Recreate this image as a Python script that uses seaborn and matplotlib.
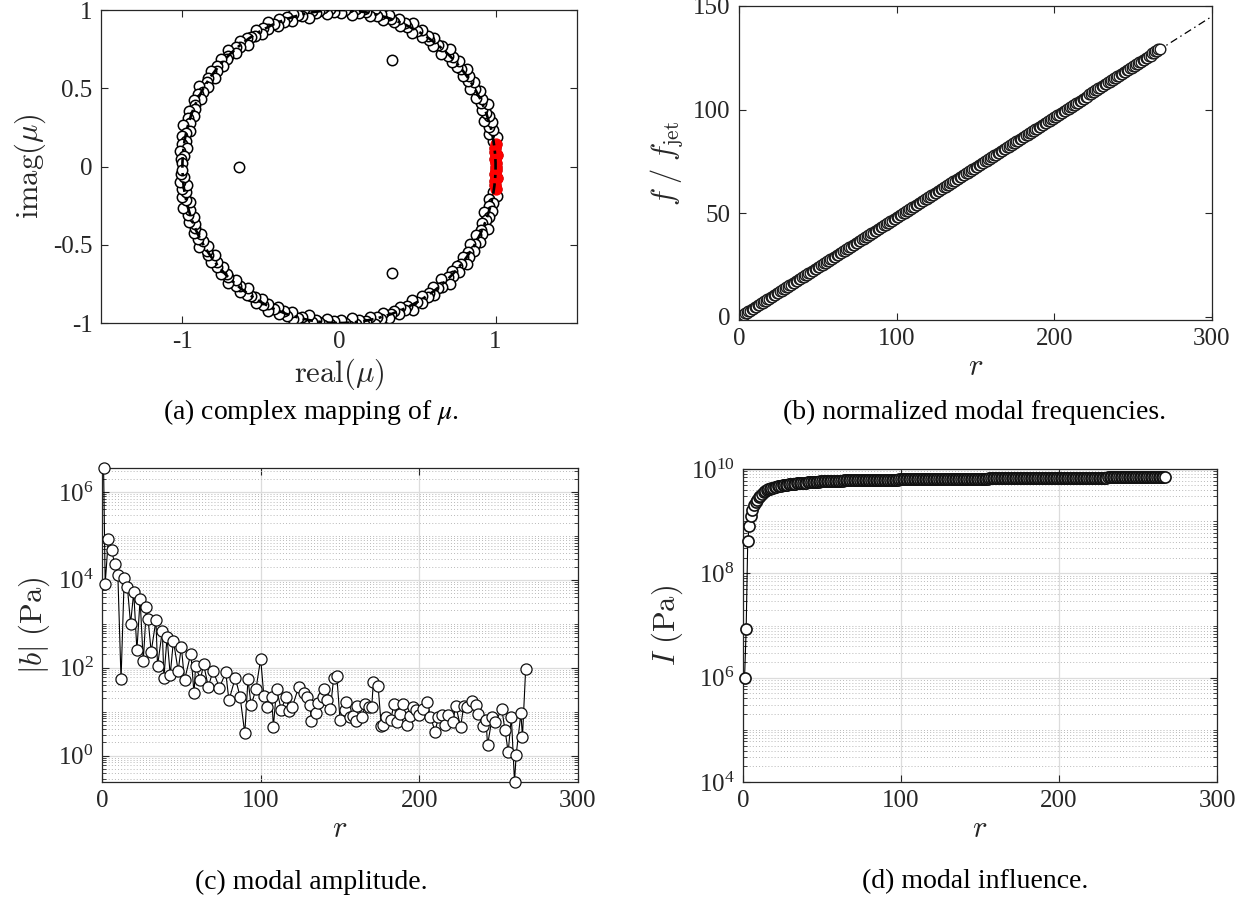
import numpy as np
import pandas as pd
import matplotlib
matplotlib.use("Agg")
import matplotlib.pyplot as plt
import seaborn as sns
from matplotlib.ticker import FixedLocator, FixedFormatter, LogLocator, NullFormatter
from matplotlib.patches import Circle

# ---------------------------------------------------------------- data
# normalized frequency f/f_jet of each conjugate pair (modes r = 2k, 2k+1); mode r = 1 has f = 0
pair_freq = [
    1.0, 1.9, 2.9, 3.9, 4.8, 5.8, 6.8, 7.7, 8.7, 9.7,
    10.6, 11.6, 12.6, 13.5, 14.5, 15.5, 16.4, 17.4, 18.4, 19.3,
    20.3, 21.3, 22.2, 23.2, 24.2, 25.1, 26.1, 27.0, 28.0, 29.0,
    29.9, 30.9, 31.8, 32.8, 33.7, 34.7, 35.7, 36.6, 37.6, 38.5,
    39.5, 40.4, 41.4, 42.4, 43.3, 44.3, 45.2, 46.2, 47.1, 48.1,
    49.1, 50.0, 51.0, 51.9, 52.9, 53.8, 54.8, 55.8, 56.7, 57.7,
    58.6, 59.6, 60.6, 61.5, 62.5, 63.4, 64.4, 65.4, 66.3, 67.3,
    68.3, 69.2, 70.2, 71.2, 72.1, 73.1, 74.1, 75.0, 76.0, 77.0,
    77.9, 78.9, 79.9, 80.9, 81.8, 82.8, 83.8, 84.7, 85.7, 86.7,
    87.7, 88.6, 89.6, 90.6, 91.6, 92.6, 93.5, 94.5, 95.5, 96.5,
    97.5, 98.4, 99.4, 100.4, 101.4, 102.4, 103.4, 104.3, 105.3, 106.3,
    107.3, 108.3, 109.3, 110.3, 111.2, 112.2, 113.2, 114.2, 115.2, 116.2,
    117.2, 118.2, 119.2, 120.2, 121.1, 122.1, 123.1, 124.1, 125.1, 126.1,
    127.1, 128.1, 129.1,
]
# |mu| of each conjugate pair (points scatter around the unit circle)
pair_radius = [
    1.00, 1.00, 1.01, 1.00, 1.00, 1.01, 1.00, 1.03, 0.98, 1.01,
    0.99, 1.02, 0.97, 1.01, 1.00, 0.98, 1.03, 0.99, 1.01, 0.98,
    1.02, 1.00, 0.97, 1.02, 0.99, 1.01, 0.98, 1.03, 1.00, 0.99,
    1.02, 0.98, 1.01, 0.99, 1.03, 0.97, 1.01, 1.00, 0.98, 1.02,
    0.99, 1.01, 0.98, 1.02, 1.00, 0.97, 1.03, 0.99, 1.01, 0.98,
    1.02, 0.99, 1.00, 1.02, 0.98, 1.01, 0.99, 1.03, 0.98, 1.00,
    1.02, 0.99, 1.01, 0.97, 1.02, 1.00, 0.98, 1.03, 0.99, 1.01,
    0.98, 1.02, 1.00, 0.99, 1.01, 0.97, 1.03, 0.99, 1.00, 1.02,
    0.98, 1.01, 0.99, 1.02, 0.98, 1.00, 1.03, 0.99, 1.01, 0.98,
    1.02, 0.99, 1.00, 1.01, 0.97, 1.02, 0.99, 1.01, 0.98, 1.03,
    1.00, 0.99, 1.02, 0.98, 1.01, 0.99, 1.02, 0.97, 1.01, 1.00,
    0.98, 1.03, 0.99, 1.01, 0.98, 1.02, 1.00, 0.99, 1.02, 0.98,
    1.01, 0.99, 1.03, 0.98, 1.00, 1.02, 0.99, 1.01, 0.98, 1.02,
    0.99, 1.01, 1.00,
]
f_nyquist = 130.0          # f/f_jet that maps to arg(mu) = pi
n_red_modes = 13           # leading (slow) modes shown in red
inner_real = [-0.64, 0.34, 0.34]
inner_imag = [0.0, 0.68, -0.68]

# |b| (Pa) of the distinct amplitudes
amp_r = [1, 2, 4, 6, 8, 10, 12, 14, 16, 18, 20, 22, 24, 26, 28, 29, 31, 34, 35, 38,
         39, 41, 43, 45, 48, 50, 52, 56, 58, 59, 62, 64, 67, 70, 74, 78, 80, 84, 87, 90,
         92, 94, 97, 100, 102, 104, 107, 108, 110, 113, 116, 118, 120, 124, 127, 129, 131, 132, 135, 136,
         139, 140, 142, 144, 146, 148, 150, 153, 154, 156, 158, 160, 161, 164, 166, 168, 170, 171, 174, 176,
         177, 179, 182, 184, 186, 188, 190, 192, 194, 196, 198, 200, 202, 205, 207, 210, 212, 214, 216, 218,
         221, 223, 226, 228, 230, 233, 236, 237, 240, 242, 243, 246, 248, 252, 254, 256, 258, 260, 261, 264,
         265, 267]
amp_b = [3.5e6, 8.1e3, 8.5e4, 4.8e4, 2.3e4, 1.26e4, 54, 1.1e4, 6.8e3, 1.0e3, 5.2e3, 250, 3.6e3, 140, 2.4e3, 1.3e3, 230, 1.2e3, 110, 690,
         59, 490, 68, 410, 85, 300, 52, 210, 26, 112, 52, 120, 37, 85, 35, 78, 18, 59, 22, 3.2,
         54, 14, 32, 160, 23, 13, 21, 4.5, 32, 11, 22, 10.5, 13, 37, 27, 21, 14, 6.2, 9.1, 15.5,
         22, 32, 18, 11.7, 59, 65, 6.6, 11, 16.6, 7.6, 7.9, 6.0, 13.5, 7.6, 14.8, 12.9, 12.9, 46, 39, 4.7,
         4.9, 7.6, 6.5, 14.8, 5.9, 8.7, 14.8, 4.9, 7.9, 12.9, 10.7, 8.3, 11.7, 16.6, 7.6, 3.5, 7.6, 8.3, 4.9, 8.3,
         5.9, 13.5, 4.5, 13.5, 12.9, 17.4, 14.1, 8.7, 4.7, 6.5, 1.74, 7.6, 5.9, 11.2, 3.8, 1.2, 7.6, 0.25, 1.02, 9.1,
         2.7, 91]

# modal influence I for r = 1..267, in units of 1e9 Pa
influence_1e9 = [
    0.001, 0.0085, 0.42, 0.82, 1.26, 1.62, 2.0, 2.3, 2.6, 2.85,
    3.1, 3.33, 3.55, 3.73, 3.9, 4.05, 4.18, 4.3, 4.4, 4.5,
    4.58, 4.66, 4.73, 4.8, 4.86, 4.92, 4.98, 5.03, 5.08, 5.13,
    5.17, 5.21, 5.25, 5.29, 5.33, 5.37, 5.41, 5.45, 5.48, 5.51,
    5.54, 5.57, 5.6, 5.63, 5.66, 5.69, 5.72, 5.75, 5.78, 5.8,
    5.82, 5.84, 5.86, 5.88, 5.9, 5.92, 5.93, 5.95, 5.96, 5.98,
    5.99, 6.0, 6.01, 6.02, 6.03, 6.04, 6.05, 6.06, 6.07, 6.08,
    6.09, 6.1, 6.11, 6.11, 6.12, 6.13, 6.14, 6.14, 6.15, 6.16,
    6.17, 6.18, 6.18, 6.19, 6.2, 6.21, 6.21, 6.22, 6.23, 6.24,
    6.24, 6.25, 6.26, 6.26, 6.27, 6.28, 6.28, 6.29, 6.3, 6.3,
    6.31, 6.31, 6.32, 6.33, 6.33, 6.34, 6.34, 6.35, 6.36, 6.36,
    6.37, 6.37, 6.38, 6.38, 6.39, 6.39, 6.4, 6.4, 6.41, 6.41,
    6.42, 6.42, 6.43, 6.43, 6.44, 6.44, 6.45, 6.45, 6.46, 6.46,
    6.47, 6.47, 6.48, 6.48, 6.49, 6.49, 6.5, 6.5, 6.51, 6.51,
    6.52, 6.52, 6.53, 6.53, 6.53, 6.54, 6.54, 6.55, 6.55, 6.55,
    6.56, 6.56, 6.57, 6.57, 6.57, 6.58, 6.58, 6.59, 6.59, 6.59,
    6.6, 6.6, 6.61, 6.61, 6.61, 6.62, 6.62, 6.63, 6.63, 6.63,
    6.64, 6.64, 6.65, 6.65, 6.65, 6.66, 6.66, 6.67, 6.67, 6.67,
    6.68, 6.68, 6.69, 6.69, 6.69, 6.7, 6.7, 6.71, 6.71, 6.71,
    6.72, 6.72, 6.73, 6.73, 6.73, 6.74, 6.74, 6.75, 6.75, 6.75,
    6.76, 6.76, 6.77, 6.77, 6.77, 6.78, 6.78, 6.79, 6.79, 6.79,
    6.8, 6.8, 6.81, 6.81, 6.81, 6.82, 6.82, 6.83, 6.83, 6.83,
    6.84, 6.84, 6.85, 6.85, 6.85, 6.86, 6.86, 6.87, 6.87, 6.87,
    6.88, 6.88, 6.89, 6.89, 6.89, 6.9, 6.9, 6.91, 6.91, 6.91,
    6.92, 6.92, 6.93, 6.93, 6.93, 6.94, 6.94, 6.95, 6.95, 6.95,
    6.96, 6.96, 6.97, 6.97, 6.97, 6.98, 6.98, 6.98, 6.99, 6.99,
    6.99, 7.0, 7.0, 7.0, 7.01, 7.01, 7.02,
]

# linear fit shown as dash-dot line in (b)
fit_r = [0, 300]
fit_f = [0, 145]

# tick labels
a_xticks, a_xlabels = [-1, 0, 1], ["-1", "0", "1"]
a_yticks, a_ylabels = [-1, -0.5, 0, 0.5, 1], ["-1", "-0.5", "0", "0.5", "1"]
b_yticks, b_ylabels = [0, 50, 100, 150], ["0", "50", "100", "150"]
r_ticks, r_labels = [0, 100, 200, 300], ["0", "100", "200", "300"]
c_yticks = [1e0, 1e2, 1e4, 1e6]
c_ylabels = [r"$\mathregular{10^{0}}$", r"$\mathregular{10^{2}}$", r"$\mathregular{10^{4}}$", r"$\mathregular{10^{6}}$"]
d_yticks = [1e4, 1e6, 1e8, 1e10]
d_ylabels = [r"$\mathregular{10^{4}}$", r"$\mathregular{10^{6}}$", r"$\mathregular{10^{8}}$", r"$\mathregular{10^{10}}$"]

captions = ["(a) complex mapping of $\\mu$.", "(b) normalized modal frequencies.",
            "(c) modal amplitude.", "(d) modal influence."]

# ---------------------------------------------------------------- derived tables
mode_freq = [0.0] + [f for f in pair_freq for _ in (0, 1)]
mode_r = list(range(1, len(mode_freq) + 1))
theta = np.pi * np.array(pair_freq) / f_nyquist
rad = np.array(pair_radius)
mu_real = [1.0]
mu_imag = [0.0]
for t, q in zip(theta, rad):
    mu_real += [q * np.cos(t), q * np.cos(t)]
    mu_imag += [q * np.sin(t), -q * np.sin(t)]
df_mu = pd.DataFrame({"re": mu_real, "im": mu_imag})
df_f = pd.DataFrame({"r": mode_r, "f": mode_freq})
df_b = pd.DataFrame({"r": amp_r, "b": amp_b})
df_I = pd.DataFrame({"r": list(range(1, len(influence_1e9) + 1)),
                     "I": np.array(influence_1e9) * 1e9})

# ---------------------------------------------------------------- style
sns.set_theme(style="ticks")
plt.rcParams.update({
    "font.family": ["Liberation Serif", "DejaVu Serif"],
    "mathtext.fontset": "cm",
    "axes.unicode_minus": False,
    "axes.edgecolor": "#262626",
    "axes.linewidth": 0.9,
    "xtick.color": "#262626",
    "ytick.color": "#262626",
    "xtick.labelsize": 18,
    "ytick.labelsize": 18,
    "axes.labelsize": 22,
})
INK = "#262626"

W, H = 1244, 905
fig = plt.figure(figsize=(W / 100, H / 100), dpi=100)


def add_ax(l, r, t, b):
    return fig.add_axes([l / W, 1 - b / H, (r - l) / W, (b - t) / H])


axA = add_ax(101, 577, 10, 323)
axB = add_ax(739, 1212, 6, 320)
axC = add_ax(102, 578, 468, 782)
axD = add_ax(743, 1217, 469, 782)


def style_ticks(ax, minor=False):
    ax.tick_params(which="major", direction="in", top=True, right=True, length=5, width=0.8, pad=6)
    if minor:
        ax.tick_params(which="minor", direction="in", top=False, right=True, length=2.8, width=0.6)
    for s in ax.spines.values():
        s.set_visible(True)
        s.set_color(INK)


# (a) complex mapping
sns.scatterplot(data=df_mu, x="re", y="im", ax=axA, color="white", edgecolor="black",
                s=56, linewidth=1.1, zorder=2, legend=False)
sns.scatterplot(data=df_mu.iloc[:n_red_modes], x="re", y="im", ax=axA, color="red",
                edgecolor="red", s=60, linewidth=1.1, zorder=3, legend=False)
sns.scatterplot(x=inner_real, y=inner_imag, ax=axA, color="white", edgecolor="black",
                s=56, linewidth=1.1, zorder=2, legend=False)
axA.add_patch(Circle((0, 0), 1.0, fill=False, ec="black", lw=1.9, ls=(0, (4, 2, 1.2, 2)), zorder=4))
axA.set_xlim(-1.52, 1.52)
axA.set_ylim(-1, 1)
axA.xaxis.set_major_locator(FixedLocator(a_xticks))
axA.xaxis.set_major_formatter(FixedFormatter(a_xlabels))
axA.yaxis.set_major_locator(FixedLocator(a_yticks))
axA.yaxis.set_major_formatter(FixedFormatter(a_ylabels))
axA.set_xlabel(r"$\mathrm{real}(\mu)$", labelpad=2)
axA.set_ylabel(r"$\mathrm{imag}(\mu)$", labelpad=4)
style_ticks(axA)

# (b) normalized modal frequencies
axB.plot(fit_r, fit_f, color="black", lw=0.9, ls=(0, (6, 3, 1.2, 3)), zorder=1)
sns.scatterplot(data=df_f, x="r", y="f", ax=axB, color="white", edgecolor="#1a1a1a",
                s=58, linewidth=1.0, zorder=2, legend=False)
axB.set_xlim(0, 300)
axB.set_ylim(-1.6, 150)
axB.xaxis.set_major_locator(FixedLocator(r_ticks))
axB.xaxis.set_major_formatter(FixedFormatter(r_labels))
axB.yaxis.set_major_locator(FixedLocator(b_yticks))
axB.yaxis.set_major_formatter(FixedFormatter(b_ylabels))
axB.set_xlabel(r"$r$", labelpad=2)
axB.set_ylabel(r"$f\;/\;f_{\mathrm{jet}}$", labelpad=6)
style_ticks(axB)


def log_panel(ax, df, ycol, yticks, ylabels, ylim, ylabel, mew):
    ax.set_yscale("log")
    sns.lineplot(data=df, x="r", y=ycol, ax=ax, color="black", lw=0.8, marker="o",
                 markersize=8, markerfacecolor="white", markeredgecolor="#111111",
                 markeredgewidth=mew, sort=False, estimator=None, clip_on=False, zorder=3)
    ax.set_xlim(0, 300)
    ax.set_ylim(*ylim)
    ax.xaxis.set_major_locator(FixedLocator(r_ticks))
    ax.xaxis.set_major_formatter(FixedFormatter(r_labels))
    ax.yaxis.set_major_locator(FixedLocator(yticks))
    ax.yaxis.set_major_formatter(FixedFormatter(ylabels))
    ax.yaxis.set_minor_locator(LogLocator(base=10, subs=np.arange(1, 10), numticks=100))
    ax.yaxis.set_minor_formatter(NullFormatter())
    ax.set_axisbelow(True)
    ax.grid(True, which="major", color="#dcdcdc", lw=0.9, ls="-")
    ax.grid(True, which="minor", axis="y", color="#b8b8b8", lw=0.7, ls=(0, (1, 2.2)))
    ax.set_xlabel(r"$r$", labelpad=2)
    ax.set_ylabel(ylabel, labelpad=4)
    style_ticks(ax, minor=True)


log_panel(axC, df_b, "b", c_yticks, c_ylabels, (0.25, 3.5e6), r"$|b|\ (\mathrm{Pa})$", 0.9)
log_panel(axD, df_I, "I", d_yticks, d_ylabels, (1e4, 1e10), r"$I\ (\mathrm{Pa})$", 1.2)

# captions
cap_pos = [(311, 412), (975, 412), (311, 882), (975, 882)]
for txt, (cx, cy) in zip(captions, cap_pos):
    fig.text(cx / W, 1 - cy / H, txt, ha="center", va="center", fontsize=20,
             color="black", math_fontfamily="stix")

fig.savefig("out.png", dpi=100)
